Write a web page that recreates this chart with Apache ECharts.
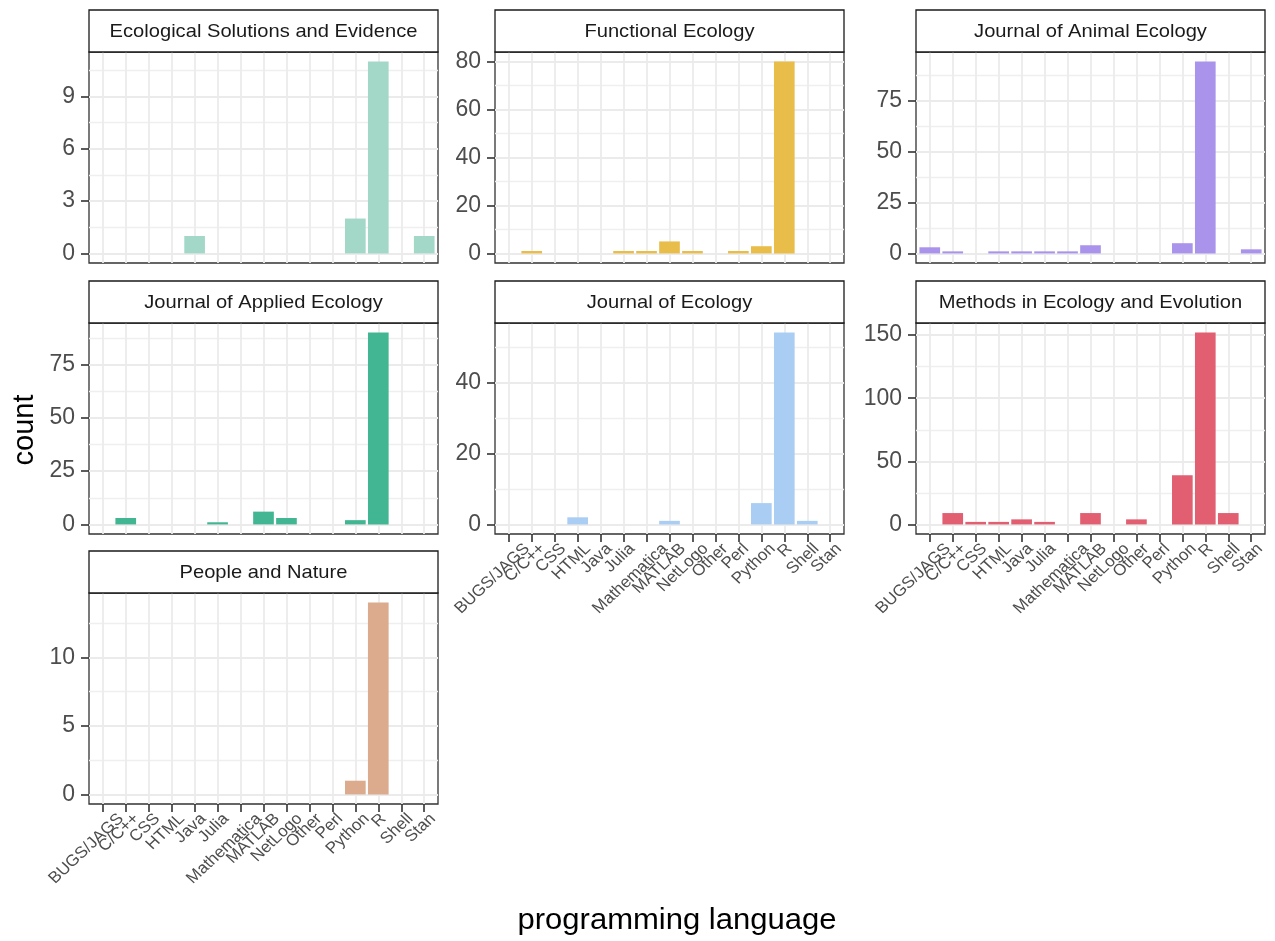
<!DOCTYPE html>
<html><head><meta charset="utf-8">
<script src="https://cdn.jsdelivr.net/npm/echarts@6/dist/echarts.min.js"></script>
<style>html,body{margin:0;padding:0;background:#fff}#c{width:1275px;height:941px}</style>
</head><body><div id="c"></div>
<script>
// ---- data ----
const languages = ['BUGS/JAGS','C/C++','CSS','HTML','Java','Julia','Mathematica','MATLAB','NetLogo','Other','Perl','Python','R','Shell','Stan'];
const journals = ['Ecological Solutions and Evidence','Functional Ecology','Journal of Animal Ecology','Journal of Applied Ecology','Journal of Ecology','Methods in Ecology and Evolution','People and Nature'];
//                       BUGS C/C CSS HTML Java Julia Math MATLAB NetL Other Perl Python R Shell Stan
const ecoSolutions      = [0, 0, 0, 0, 1, 0, 0, 0, 0, 0, 0, 2, 11, 0, 1];
const functionalEcology = [0, 1, 0, 0, 0, 1, 1, 5, 1, 0, 1, 3, 80, 0, 0];
const animalEcology     = [3, 1, 0, 1, 1, 1, 1, 4, 0, 0, 0, 5, 94, 0, 2];
const appliedEcology    = [0, 3, 0, 0, 0, 1, 0, 6, 3, 0, 0, 2, 90, 0, 0];
const journalOfEcology  = [0, 0, 0, 2, 0, 0, 0, 1, 0, 0, 0, 6, 54, 1, 0];
const methodsEcoEvo     = [0, 9, 2, 2, 4, 2, 0, 9, 0, 4, 0, 39, 152, 9, 0];
const peopleNature      = [0, 0, 0, 0, 0, 0, 0, 0, 0, 0, 0, 1, 14, 0, 0];
const seriesValues = [ecoSolutions, functionalEcology, animalEcology, appliedEcology, journalOfEcology, methodsEcoEvo, peopleNature];

const yTicks1 = [0, 3, 6, 9];
const yTicks2 = [0, 20, 40, 60, 80];
const yTicks3 = [0, 25, 50, 75];
const yTicks4 = [0, 25, 50, 75];
const yTicks5 = [0, 20, 40];
const yTicks6 = [0, 50, 100, 150];
const yTicks7 = [0, 5, 10];
const yTickSets = [yTicks1, yTicks2, yTicks3, yTicks4, yTicks5, yTicks6, yTicks7];

// ---- styling / layout ----
const colors = ['#A3D8C9', '#E9BD4A', '#A993EB', '#42B592', '#AACDF4', '#E15F71', '#DCAA8D'];
const FONT = "'Liberation Sans', Arial, Helvetica, sans-serif";
const XFS = 16;
const colLeft = [89, 495, 916];
const rowTop = [52, 323, 593];
const panelW = 349, panelH = 211, stripH = 42;
const pos = [[0,0],[0,1],[0,2],[1,0],[1,1],[1,2],[2,0]];
const showX = [false, false, false, false, true, true, true];
const nCat = languages.length;
const xMin = -0.6, xMax = nCat - 1 + 0.6;
const barW = panelW / (xMax - xMin) * 0.9;
const catIdx = languages.map((_, i) => i);

const mctx = document.createElement('canvas').getContext('2d');
mctx.font = XFS + 'px ' + FONT;
const textLen = t => mctx.measureText(t).width;

const grids = [], xAxes = [], yAxes = [], series = [], graphics = [];
seriesValues.forEach((vals, i) => {
  const [r, c] = pos[i];
  const left = colLeft[c], top = rowTop[r];
  grids.push({left, top, width: panelW, height: panelH, show: true, borderColor: '#333333', borderWidth: 1.3, backgroundColor: '#fff', containLabel: false, outerBoundsMode: 'none'});
  xAxes.push({
    type: 'value', gridIndex: i, min: xMin, max: xMax, position: 'bottom',
    axisLine: {show: false, onZero: false},
    axisTick: {show: showX[i], length: 8, lineStyle: {color: '#333333', width: 1.6}, customValues: catIdx},
    axisLabel: {show: false},
    splitLine: {show: true, lineStyle: {color: '#EBEBEB', width: 1.8}}
  });
  const M = Math.max(...vals);
  const ymin = -0.05 * M, ymax = 1.05 * M;
  const majors = yTickSets[i];
  const step = majors[1] - majors[0];
  const minors = [];
  for (let k = -1; k < majors.length; k++) {
    const m = majors[0] + step * (k + 0.5);
    if (m > ymin && m < ymax) minors.push(m);
  }
  yAxes.push({
    type: 'value', gridIndex: i, min: ymin, max: ymax, position: 'left',
    axisLine: {show: false, onZero: false},
    axisTick: {show: true, length: 8, lineStyle: {color: '#333333', width: 1.6}, customValues: majors},
    axisLabel: {show: true, customValues: majors, margin: 14, fontSize: 23, color: '#4D4D4D', fontFamily: FONT,
      showMinLabel: true, showMaxLabel: true, hideOverlap: false},
    splitLine: {show: true, lineStyle: {color: '#EBEBEB', width: 1.8}}
  });
  yAxes.push({
    type: 'value', gridIndex: i, min: ymin, max: ymax, position: 'left',
    axisLine: {show: false, onZero: false},
    axisTick: {show: false, customValues: minors},
    axisLabel: {show: false},
    splitLine: {show: true, lineStyle: {color: '#EFEFEF', width: 1.3}}
  });
  series.push({
    type: 'bar', xAxisIndex: i, yAxisIndex: 2 * i, barWidth: barW, silent: true,
    itemStyle: {color: colors[i]},
    data: vals.map((v, k) => [k, v]).filter(d => d[1] > 0)
  });
  if (showX[i]) {
    // rotated category labels under the panel, placed through the axis scale
    series.push({
      type: 'custom', xAxisIndex: i, yAxisIndex: 2 * i, silent: true, clip: false, z: 5,
      data: catIdx.map(k => [k]),
      renderItem: (params, api) => {
        const k = api.value(0);
        const p = api.coord([k, ymin]);
        const t = languages[k];
        const L = textLen(t);
        return {
          type: 'group', x: p[0] + 7 + 0.165 * L, y: p[1] + 16, scaleX: 1.07,
          children: [{
            type: 'text', rotation: Math.PI / 4,
            style: {text: t, font: XFS + 'px ' + FONT, fill: '#4D4D4D', align: 'right', verticalAlign: 'middle', x: 0, y: -0.32 * XFS}
          }]
        };
      }
    });
  }
  graphics.push({
    type: 'rect', shape: {x: left, y: top - stripH, width: panelW, height: stripH},
    style: {fill: '#ffffff', stroke: '#1A1A1A', lineWidth: 1.3}, z: 10
  });
  graphics.push({
    type: 'text', x: left + panelW / 2, y: top - stripH / 2 + 1, z: 11, scaleX: 1.06,
    style: {text: journals[i], fill: '#1A1A1A', font: '19px ' + FONT, align: 'center', verticalAlign: 'middle'}
  });
});
graphics.push({type: 'text', x: 25, y: 430, rotation: Math.PI / 2, z: 11,
  style: {text: 'count', fill: '#000', font: '29px ' + FONT, align: 'center', verticalAlign: 'middle'}});
graphics.push({type: 'text', x: 677, y: 921, z: 11, scaleX: 1.07,
  style: {text: 'programming language', fill: '#000', font: '29px ' + FONT, align: 'center', verticalAlign: 'middle'}});

const chart = echarts.init(document.getElementById('c'), null, {renderer: 'canvas'});
chart.setOption({
  animation: false,
  backgroundColor: '#ffffff',
  grid: grids, xAxis: xAxes, yAxis: yAxes, series: series, graphic: graphics
});
</script>
</body></html>
